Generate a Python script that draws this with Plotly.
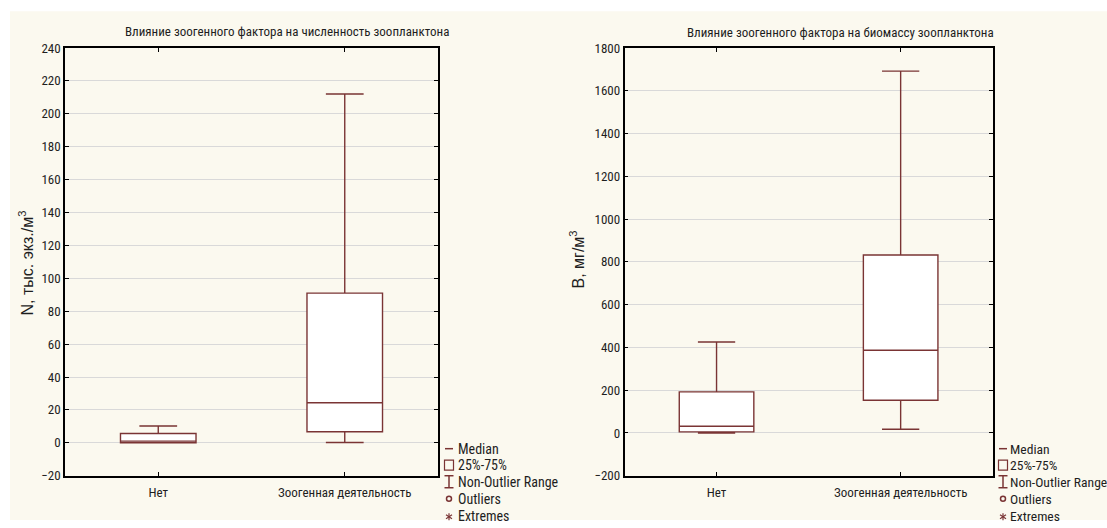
import plotly.graph_objects as go

# Groups and five-number summaries for each panel
groups = ["Нет", "Зоогенная деятельность"]

# Численность, тыс. экз./м³
n_min = [0.0, 0.2]
n_q1 = [0.0, 6.7]
n_median = [1.0, 24.4]
n_q3 = [5.7, 91.0]
n_max = [10.2, 212.0]

# Биомасса, мг/м³
b_min = [0.0, 17.0]
b_q1 = [5.0, 153.0]
b_median = [31.0, 387.0]
b_q3 = [192.0, 832.0]
b_max = [425.0, 1692.0]

legend_labels = ["Median", "25%-75%", "Non-Outlier Range", "Outliers", "Extremes"]

W, H = 1107, 528
BOX_COLOR = "#7a3434"
CREAM = "#fbf9ef"
NARROW = "Roboto Condensed, Liberation Sans, sans-serif"
REGULAR = "Liberation Sans, Arial, sans-serif"
TEXT = "#1e1e1e"

# vertical page placement: the figure sits 8 px below the page top inside a 544 px page
V_SCALE = H / (H + 16)
V_OFF = 8 * V_SCALE


def px_x(x):
    return x / W


def px_y(y):
    return 1 - ((y - V_OFF) / V_SCALE) / H


fig = go.Figure()


def add_boxes(xref, yref, q1, med, q3, lo, hi):
    for i, g in enumerate(groups):
        fig.add_trace(go.Box(
            x=[g], q1=[q1[i]], median=[med[i]], q3=[q3[i]],
            lowerfence=[lo[i]], upperfence=[hi[i]],
            xaxis=xref, yaxis=yref,
            width=0.405, whiskerwidth=0.5,
            fillcolor="white",
            line=dict(color=BOX_COLOR, width=1.4),
            boxpoints=False, showlegend=False, hoverinfo="skip",
        ))


add_boxes("x", "y", n_q1, n_median, n_q3, n_min, n_max)
add_boxes("x2", "y2", b_q1, b_median, b_q3, b_min, b_max)

x_common = dict(
    type="category", categoryorder="array", categoryarray=groups,
    range=[-0.5, 1.5], showgrid=False, zeroline=False,
    showline=True, linecolor="black", linewidth=1.5, mirror="allticks",
    ticks="inside", ticklen=4, tickcolor="black", ticklabelstandoff=4,
    tickfont=dict(family=NARROW, size=13, color=TEXT),
)
y_common = dict(
    showgrid=True, gridcolor="#d9d9d9", gridwidth=1, zeroline=False,
    showline=True, linecolor="black", linewidth=1.5, mirror="allticks",
    ticks="inside", ticklen=4, tickcolor="black",
    tickfont=dict(family=NARROW, size=13, color=TEXT),
)

dom_y = [px_y(476), px_y(48.7)]

fig.update_layout(
    width=W, height=H,
    margin=dict(l=0, r=0, t=0, b=0),
    paper_bgcolor="white", plot_bgcolor="white",
    xaxis=dict(domain=[px_x(65), px_x(438)], anchor="y", **x_common),
    yaxis=dict(domain=dom_y, anchor="x", range=[-20, 240], dtick=20, **y_common),
    xaxis2=dict(domain=[px_x(624.5), px_x(992.7)], anchor="y2", **x_common),
    yaxis2=dict(domain=dom_y, anchor="x2", range=[-200, 1800], dtick=200, **y_common),
)

shapes = [dict(type="rect", xref="paper", yref="paper", x0=px_x(10), x1=1,
               y0=0, y1=px_y(12), fillcolor=CREAM, line=dict(width=0), layer="below")]
annotations = []

# Panel titles
annotations.append(dict(text="Влияние зоогенного фактора на численность зоопланктона",
                        x=px_x(287), y=px_y(32), xref="paper", yref="paper",
                        showarrow=False, xanchor="center", yanchor="middle",
                        font=dict(family=NARROW, size=13, color=TEXT)))
annotations.append(dict(text="Влияние зоогенного фактора на биомассу зоопланктона",
                        x=px_x(840), y=px_y(33), xref="paper", yref="paper",
                        showarrow=False, xanchor="center", yanchor="middle",
                        font=dict(family=NARROW, size=13, color=TEXT)))

# Axis titles
annotations.append(dict(text="N, тыс. экз./м<sup>3</sup>", x=px_x(26), y=px_y(264),
                        xref="paper", yref="paper", showarrow=False, textangle=-90,
                        xanchor="center", yanchor="middle",
                        font=dict(family=REGULAR, size=16, color=TEXT)))
annotations.append(dict(text="B, мг/м<sup>3</sup>", x=px_x(578), y=px_y(260),
                        xref="paper", yref="paper", showarrow=False, textangle=-90,
                        xanchor="center", yanchor="middle",
                        font=dict(family=REGULAR, size=16, color=TEXT)))


def legend(sx, tx, size):
    """Statistica-style key: symbol column at sx, text column at tx (pixels)."""
    ys = [449, 465.5, 482, 499, 516]
    line = dict(color=BOX_COLOR, width=1.5)
    # median dash
    shapes.append(dict(type="line", xref="paper", yref="paper",
                       x0=px_x(sx - 4), x1=px_x(sx + 4), y0=px_y(ys[0]), y1=px_y(ys[0]), line=line))
    # quartile box
    shapes.append(dict(type="rect", xref="paper", yref="paper",
                       x0=px_x(sx - 4.5), x1=px_x(sx + 4.5), y0=px_y(ys[1] - 5), y1=px_y(ys[1] + 5),
                       line=dict(color=BOX_COLOR, width=1.2)))
    # whisker range
    y0, y1 = ys[2] - 6, ys[2] + 6
    shapes.append(dict(type="line", xref="paper", yref="paper",
                       x0=px_x(sx), x1=px_x(sx), y0=px_y(y0), y1=px_y(y1), line=line))
    for yy in (y0, y1):
        shapes.append(dict(type="line", xref="paper", yref="paper",
                           x0=px_x(sx - 4.5), x1=px_x(sx + 4.5), y0=px_y(yy), y1=px_y(yy), line=line))
    # outlier circle
    shapes.append(dict(type="circle", xref="paper", yref="paper",
                       x0=px_x(sx - 2.5), x1=px_x(sx + 2.5), y0=px_y(ys[3] - 2.5), y1=px_y(ys[3] + 2.5),
                       line=dict(color=BOX_COLOR, width=1.5)))
    # extreme asterisk
    cy = ys[4] + 1
    for dx, dy in ((0, 3.5), (3, 2), (3, -2)):
        shapes.append(dict(type="line", xref="paper", yref="paper",
                           x0=px_x(sx - dx), x1=px_x(sx + dx), y0=px_y(cy - dy), y1=px_y(cy + dy),
                           line=dict(color=BOX_COLOR, width=1.2)))
    for lab, yy in zip(legend_labels, ys):
        annotations.append(dict(text=lab, x=px_x(tx), y=px_y(yy), xref="paper", yref="paper",
                                showarrow=False, xanchor="left", yanchor="middle",
                                font=dict(family=NARROW, size=size, color=TEXT)))


legend(449, 456, 14)
legend(1003, 1008, 13.6)

fig.update_layout(shapes=shapes, annotations=annotations)

fig.write_html("out.html")
